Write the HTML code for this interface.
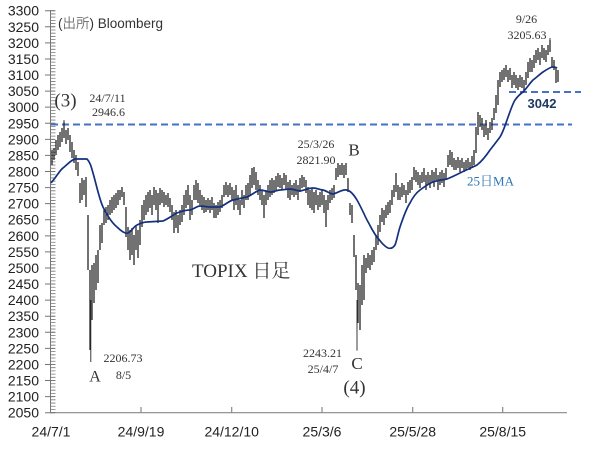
<!DOCTYPE html>
<html><head><meta charset="utf-8"><style>
html,body{margin:0;padding:0;background:#fff;}
svg{display:block;}
.ax{font-family:"Liberation Sans","Noto Sans CJK JP",sans-serif;font-size:14px;fill:#222;}
.sr{font-family:"Liberation Serif","Noto Serif CJK SC",serif;fill:#333;}
</style></head><body>
<svg width="604" height="453" viewBox="0 0 604 453" xmlns="http://www.w3.org/2000/svg">
<rect width="604" height="453" fill="#fff"/>
<!-- axes -->
<line x1="50.5" y1="10" x2="50.5" y2="413" stroke="#777" stroke-width="1"/>
<line x1="50" y1="412.7" x2="567" y2="412.7" stroke="#888" stroke-width="1.2"/>
<line x1="53" y1="10.3" x2="53" y2="413" stroke="#777" stroke-width="5" stroke-dasharray="0.8 2.416"/>
<line x1="50" y1="10.2" x2="50" y2="413.5" stroke="#777" stroke-width="10" stroke-dasharray="1 15.08"/>
<g stroke="#888" stroke-width="1.2">
<line x1="141" y1="407" x2="141" y2="413"/>
<line x1="231.7" y1="407" x2="231.7" y2="413"/>
<line x1="322" y1="407" x2="322" y2="413"/>
<line x1="412.7" y1="407" x2="412.7" y2="413"/>
<line x1="502.7" y1="407" x2="502.7" y2="413"/>
</g>
<g class="ax" text-anchor="end">
<text x="39" y="15.7">3300</text><text x="39" y="31.8">3250</text><text x="39" y="47.9">3200</text><text x="39" y="63.9">3150</text><text x="39" y="80">3100</text><text x="39" y="96.1">3050</text><text x="39" y="112.2">3000</text><text x="39" y="128.3">2950</text><text x="39" y="144.3">2900</text><text x="39" y="160.4">2850</text><text x="39" y="176.5">2800</text><text x="39" y="192.6">2750</text><text x="39" y="208.7">2700</text><text x="39" y="224.7">2650</text><text x="39" y="240.8">2600</text><text x="39" y="256.9">2550</text><text x="39" y="273">2500</text><text x="39" y="289.1">2450</text><text x="39" y="305.1">2400</text><text x="39" y="321.2">2350</text><text x="39" y="337.3">2300</text><text x="39" y="353.4">2250</text><text x="39" y="369.5">2200</text><text x="39" y="385.5">2150</text><text x="39" y="401.6">2100</text><text x="39" y="417.7">2050</text>
</g>
<g class="ax" text-anchor="middle">
<text x="51" y="436.5">24/7/1</text>
<text x="141" y="436.5">24/9/19</text>
<text x="231.7" y="436.5">24/12/10</text>
<text x="322" y="436.5">25/3/6</text>
<text x="412.7" y="436.5">25/5/28</text>
<text x="502.7" y="436.5">25/8/15</text>
</g>
<!-- dashed lines -->
<line x1="51" y1="124.5" x2="572" y2="124.5" stroke="#4472c4" stroke-width="2" stroke-dasharray="7 4"/>
<line x1="509" y1="92" x2="581" y2="92" stroke="#4472c4" stroke-width="2" stroke-dasharray="7 4"/>
<!-- candles -->
<path fill="none" stroke="#262626" stroke-width="1.3" d="M52 150V165M54 148V160M56 140V155M58 135V150M60 132V147M62 128V142M64 122V138M66 130V144M68 128V140M70 135V152M72 142V158M74 150V163M76 155V170M78 162V176M80 183V203M82 178V200M84 180V195M86 177V207M88 215V270M90 270V350M92 265V320M94 263V303M96 255V290M98 250V283M100 225V250M102 223V243M104 210V225M106 207V223M108 205V220M110 200V215M112 197V213M114 195V210M116 193V208M118 190V205M120 190V200M122 187V197M124 192V205M126 207V237M128 227V250M130 230V260M132 228V255M134 235V265M136 225V250M138 230V258M140 220V245M142 205V227M144 200V220M146 195V215M148 192V212M150 190V208M152 195V215M154 187V205M156 190V210M158 193V223M160 188V205M162 190V203M164 192V207M166 195V205M168 193V207M170 198V212M172 205V220M174 212V233M176 210V228M178 215V233M180 210V225M182 205V222M184 195V215M186 190V208M188 185V205M190 195V220M192 200V215M194 185V200M196 180V200M198 183V203M200 190V205M202 195V210M204 197V213M206 200V212M208 198V210M210 200V213M212 197V210M214 203V218M216 205V218M218 202V215M220 200V212M222 195V208M224 185V197M226 182V195M228 185V197M230 183V195M232 187V200M234 190V210M236 185V205M238 195V210M240 200V215M242 190V205M244 195V208M246 185V200M248 183V200M250 175V195M252 168V188M254 167V185M256 172V190M258 180V195M260 185V200M262 190V205M264 195V218M266 190V205M268 185V200M270 180V197M272 178V195M274 180V193M276 176V190M278 173V187M280 175V188M282 178V190M284 173V185M286 175V190M288 182V198M290 180V200M292 185V195M294 183V197M296 180V195M298 185V200M300 178V192M302 175V188M304 177V187M306 180V193M308 187V205M310 190V208M312 188V210M314 192V213M316 190V205M318 195V210M320 192V207M322 190V205M324 195V213M326 200V227M328 195V210M330 190V203M332 188V200M334 185V198M336 168V180M338 163V177M340 165V175M342 163V175M344 165V178M346 163V175M348 178V192M350 203V215M352 205V223M354 235V257M356 255V290M358 283V323M360 285V330M362 265V305M364 255V300M366 258V273M368 253V268M370 255V270M372 250V265M374 247V262M376 235V250M378 225V245M380 215V232M382 208V222M384 210V225M386 205V218M388 202V215M390 200V213M392 190V205M394 185V197M396 173V192M398 185V200M400 187V200M402 183V197M404 185V195M406 190V203M408 182V195M410 180V193M412 177V190M414 167V180M416 170V182M418 172V185M420 175V188M422 172V183M424 168V182M426 175V190M428 172V185M430 175V188M432 170V183M434 172V187M436 168V180M438 175V190M440 172V185M442 170V183M444 173V187M446 168V180M448 155V167M450 150V165M452 152V167M454 158V170M456 160V170M458 157V168M460 160V172M462 158V168M464 162V172M466 160V170M468 158V168M470 162V170M472 156V168M474 150V165M476 127V153M478 112V135M480 115V127M482 118V130M484 125V137M486 120V135M488 128V140M490 122V133M492 118V130M494 108V120M496 95V113M498 80V105M500 72V87M502 70V82M504 68V80M506 65V77M508 70V82M510 68V80M512 75V88M514 72V85M516 75V88M518 78V90M520 75V87M522 77V88M524 80V92M526 72V85M528 62V78M530 58V72M532 60V72M534 55V68M536 50V63M538 48V60M540 52V65M542 45V58M544 48V60M546 50V62M548 45V55M550 40V52M552 57V67M554 60V70M556 67V83M558 70V82"/>
<path fill="none" stroke="#262626" stroke-width="0.9" d="M90.8 300V362M357 300V350.6M550 38V52M64 120V130"/>
<!-- MA -->
<path fill="none" stroke="#14307e" stroke-width="1.7" stroke-linejoin="round" d="M51 183 C57 176,60 170,63 168 C68 164,71 160,75 159 L87 159 C90 162,91 166,93 173 C97 187,99 198,103 207 C108 217,112 223,117 227 C121 231,125 234,128 233 C132 231,134 226,137 225 C141 223,144 222,147 222 L163 221 C168 219,173 215,177 213 C182 211,186 210,190 210 C194 209,197 206,200 206 C204 206,207 207,210 207 L220 207 C225 205,229 201,233 200 C238 199,242 198,247 197 C252 195,256 191,260 190 C264 190,267 192,270 192 C274 192,277 190,280 190 C284 190,287 189,290 189 C294 189,297 191,300 191 C305 190,309 188,313 188 C317 188,320 190,323 190 C327 191,330 194,333 194 C338 193,342 189,347 190 C351 191,354 195,357 200 C361 207,364 214,367 220 C371 227,373 232,377 237 C381 242,384 246,388 248 C391 249,393 248,395 245 C397 240,398 233,400 227 C403 218,406 209,410 203 C413 197,416 193,420 190 C424 187,428 184,433 182 C438 180,442 180,447 179 C452 177,456 175,460 173 C466 170,471 168,477 165 C482 161,486 156,490 150 C494 145,497 141,500 137 C503 132,505 126,507 120 C510 112,512 105,515 100 C518 96,520 94,523 92 C527 88,530 83,533 80 C537 77,540 74,543 72 C546 70,549 68,552 67 C554 67,556 67,557 68"/>
<!-- annotations -->
<text x="58" y="28" font-family="Liberation Sans, Noto Sans CJK JP, sans-serif" font-size="13.5" fill="#333">(<tspan fill="#777">出所</tspan>) Bloomberg</text>
<text class="sr" x="65.5" y="106.5" font-size="19" text-anchor="middle" fill="#222">(3)</text>
<text class="sr" x="107.5" y="102" font-size="12" text-anchor="middle">24/7/11</text>
<text class="sr" x="108.5" y="116" font-size="12" text-anchor="middle">2946.6</text>
<text class="sr" x="316" y="148" font-size="12" text-anchor="middle">25/3/26</text>
<text class="sr" x="316" y="164" font-size="12" text-anchor="middle">2821.90</text>
<text class="sr" x="354" y="155.5" font-size="17" text-anchor="middle" fill="#222">B</text>
<text class="sr" x="192" y="277" font-size="19" fill="#111">TOPIX 日足</text>
<text class="sr" x="123" y="362" font-size="12" text-anchor="middle">2206.73</text>
<text class="sr" x="123.5" y="379" font-size="12" text-anchor="middle">8/5</text>
<text class="sr" x="95" y="381.5" font-size="16" text-anchor="middle" fill="#222">A</text>
<text class="sr" x="322.5" y="357" font-size="12" text-anchor="middle">2243.21</text>
<text class="sr" x="323" y="373" font-size="12" text-anchor="middle">25/4/7</text>
<text class="sr" x="357" y="369" font-size="17" text-anchor="middle" fill="#222">C</text>
<text class="sr" x="354.5" y="393.5" font-size="19" text-anchor="middle" fill="#222">(4)</text>
<text class="sr" x="526.5" y="23" font-size="12" text-anchor="middle">9/26</text>
<text class="sr" x="527" y="39" font-size="12" text-anchor="middle">3205.63</text>
<text x="542" y="108" font-family="Liberation Sans, sans-serif" font-size="13" font-weight="bold" fill="#1f3864" text-anchor="middle">3042</text>
<text x="490.5" y="185.5" font-family="Liberation Serif, Noto Serif CJK SC, serif" font-size="13" fill="#2e75b6" text-anchor="middle">25日MA</text>
</svg>
</body></html>
